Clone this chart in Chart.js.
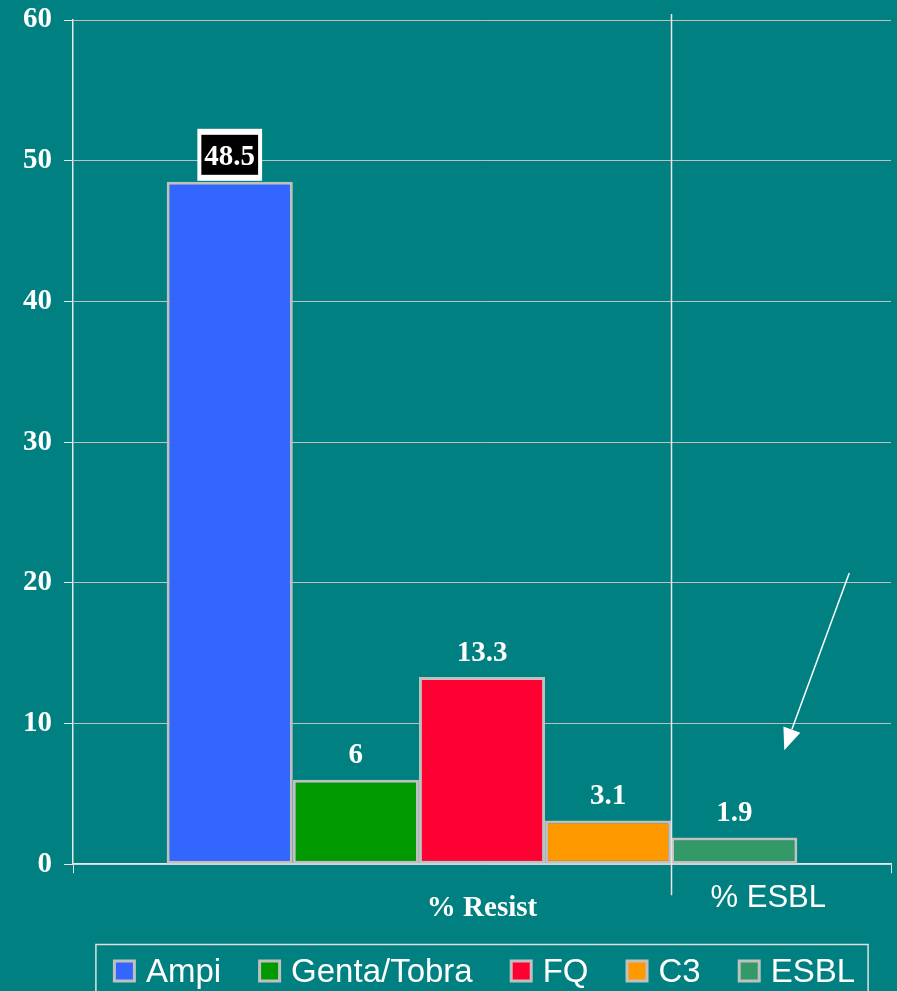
<!DOCTYPE html>
<html>
<head>
<meta charset="utf-8">
<script src="https://cdn.jsdelivr.net/npm/chart.js@4.4.1/dist/chart.umd.min.js"></script>
<style>
  html, body { margin: 0; padding: 0; background: #008080; }
  canvas { display: block; }
</style>
</head>
<body>
<canvas id="resistChart" width="897" height="991"></canvas>
<script>
const categories = ['% Resist'];
const seriesNames = ['Ampi', 'Genta/Tobra', 'FQ', 'C3', 'ESBL'];
const seriesValues = [48.5, 6, 13.3, 3.1, 1.9];
const seriesColors = ['#3366FF', '#009900', '#FF0033', '#FF9900', '#339966'];
const yTickMin = 0, yTickMax = 60, yTickStep = 10;

const serifBold = { family: '"Liberation Serif", "Times New Roman", serif', size: 29, weight: 'bold' };
const sansFamily = '"Liberation Sans", Arial, sans-serif';

// value labels above each bar; the first one sits in a black box with white frame
const valueLabels = {
    id: 'valueLabels',
    afterDatasetsDraw(chart) {
        const ctx = chart.ctx;
        ctx.save();
        ctx.font = 'bold 29px "Liberation Serif", "Times New Roman", serif';
        ctx.textAlign = 'center';
        ctx.textBaseline = 'middle';
        chart.data.datasets.forEach((ds, i) => {
            const bar = chart.getDatasetMeta(i).data[0];
            const text = String(ds.data[0]);
            const cy = bar.y - 25;
            if (i === 0) {
                const w = ctx.measureText(text).width;
                ctx.fillStyle = '#FFFFFF';
                ctx.fillRect(bar.x - w / 2 - 7, bar.y - 53, w + 14, 52);
                ctx.fillStyle = '#000000';
                ctx.fillRect(bar.x - w / 2 - 3, bar.y - 47, w + 6, 40);
            }
            ctx.fillStyle = '#FFFFFF';
            ctx.fillText(text, bar.x, cy + 1);
        });
        ctx.restore();
    }
};

// divider, arrow and the "% ESBL" caption
const esblNotes = {
    id: 'esblNotes',
    afterDraw(chart) {
        const ctx = chart.ctx;
        const y = chart.scales.y;
        const area = chart.chartArea;
        const esbl = chart.getDatasetMeta(4).data[0];
        const divX = Math.round(esbl.x - esbl.width / 2) + 0.5;

        ctx.save();
        ctx.strokeStyle = '#E6E6E6';
        ctx.lineWidth = 1.5;
        ctx.beginPath();
        ctx.moveTo(divX, area.top - 6);
        ctx.lineTo(divX, area.bottom + 31);
        ctx.stroke();

        // arrow
        const x0 = esbl.x + 115, y0 = y.getPixelForValue(20.7);
        const x1 = esbl.x + 50, y1 = y.getPixelForValue(8.1);
        const ang = Math.atan2(y1 - y0, x1 - x0);
        const head = 22, half = 9;
        const bx = x1 - head * Math.cos(ang), by = y1 - head * Math.sin(ang);
        ctx.strokeStyle = '#FFFFFF';
        ctx.lineWidth = 1.5;
        ctx.beginPath();
        ctx.moveTo(x0, y0);
        ctx.lineTo(bx, by);
        ctx.stroke();
        ctx.fillStyle = '#FFFFFF';
        ctx.beginPath();
        ctx.moveTo(x1, y1);
        ctx.lineTo(bx + half * Math.sin(ang), by - half * Math.cos(ang));
        ctx.lineTo(bx - half * Math.sin(ang), by + half * Math.cos(ang));
        ctx.closePath();
        ctx.fill();

        ctx.font = '31px ' + sansFamily;
        ctx.textAlign = 'center';
        ctx.textBaseline = 'middle';
        ctx.fillText('% ESBL', esbl.x + 34, area.bottom + 34);
        ctx.restore();
    }
};

// framed legend row along the bottom
const boxLegend = {
    id: 'boxLegend',
    afterDraw(chart) {
        const ctx = chart.ctx;
        const top = chart.height - 47;
        const midY = top + 27;
        const sq = 23, gapText = 10, gapItem = 37;
        const centerX = (chart.chartArea.left + chart.chartArea.right) / 2 + 2;
        ctx.save();
        ctx.font = '33px ' + sansFamily;
        ctx.textBaseline = 'middle';
        const dsList = chart.data.datasets;
        let total = 0;
        dsList.forEach((ds, i) => {
            total += sq + gapText + ctx.measureText(ds.label).width;
            if (i < dsList.length - 1) total += gapItem;
        });
        let x = centerX - total / 2;
        const startX = x;
        dsList.forEach((ds, i) => {
            ctx.fillStyle = '#C0C0C0';
            ctx.fillRect(x, midY - sq / 2, sq, sq);
            ctx.fillStyle = ds.backgroundColor;
            ctx.fillRect(x + 3, midY - sq / 2 + 3, sq - 6, sq - 6);
            x += sq + gapText;
            ctx.fillStyle = '#FFFFFF';
            ctx.fillText(ds.label, x, midY + 2);
            x += ctx.measureText(ds.label).width;
            if (i < dsList.length - 1) x += gapItem;
        });
        ctx.strokeStyle = '#E0E0E0';
        ctx.lineWidth = 1.5;
        ctx.strokeRect(startX - 17, top + 0.5, (x + 13) - (startX - 17), 60);
        ctx.restore();
    }
};

new Chart(document.getElementById('resistChart'), {
    type: 'bar',
    data: {
        labels: categories,
        datasets: seriesNames.map((name, i) => ({
            label: name,
            data: [seriesValues[i]],
            backgroundColor: seriesColors[i],
            borderColor: '#C0C0C0',
            borderWidth: 3,
            borderSkipped: false,
            barPercentage: 1,
            categoryPercentage: 0.771
        }))
    },
    options: {
        responsive: false,
        animation: false,
        layout: { padding: { top: 20, right: 6, bottom: 47, left: 11 } },
        plugins: {
            legend: { display: false },
            tooltip: { enabled: false }
        },
        scales: {
            x: {
                grid: { drawOnChartArea: false, tickLength: 9, color: '#E6E6E6', offset: true },
                border: { color: '#E6E6E6', width: 1.5 },
                ticks: { color: '#FFFFFF', font: serifBold, padding: 18 }
            },
            y: {
                min: yTickMin,
                max: yTickMax,
                afterFit(scale) { scale.paddingTop = 0; },
                grid: { color: '#BFBFBF', tickLength: 9, tickColor: '#E6E6E6' },
                border: { color: '#E6E6E6', width: 1.5 },
                ticks: { stepSize: yTickStep, color: '#FFFFFF', font: { ...serifBold, lineHeight: 1 }, padding: 12 }
            }
        }
    },
    plugins: [valueLabels, esblNotes, boxLegend]
});
</script>
</body>
</html>
